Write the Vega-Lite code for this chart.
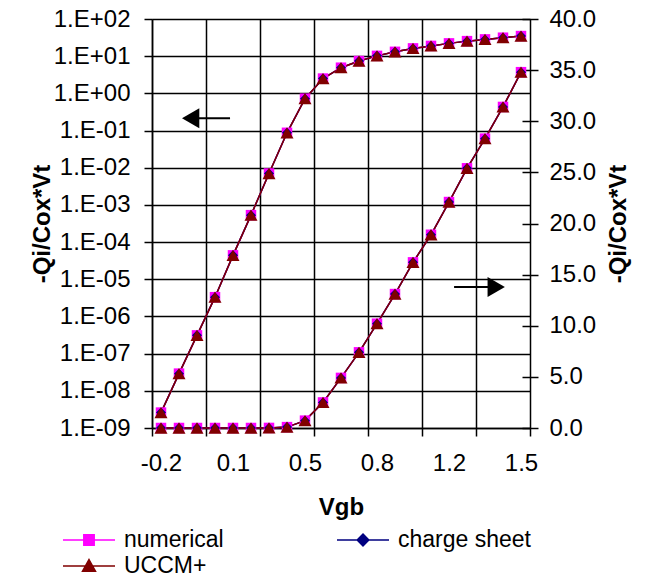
{
 "$schema": "https://vega.github.io/schema/vega-lite/v6.json",
 "width": 378,
 "height": 409,
 "padding": {"left": 30, "top": 7, "right": 5, "bottom": 0},
 "config": {
  "view": {"stroke": null},
  "font": "Liberation Sans",
  "axis": {"labelFont": "Liberation Sans", "labelFontSize": 24, "labelColor": "#000", "titleFont": "Liberation Sans", "titleFontSize": 24, "titleFontWeight": "bold", "titleColor": "#000", "domainColor": "#000", "tickColor": "#000", "gridColor": "#000", "gridOpacity": 1, "domainWidth": 1.5, "tickWidth": 1.5, "gridWidth": 1.5, "labelFlush": false, "labelOverlap": false}
 },
 "datasets": {
  "curves": [
   {"vgb": -0.2, "q": 2.6e-9, "series": "numerical"},
   {"vgb": -0.115, "q": 2.9e-8, "series": "numerical"},
   {"vgb": -0.03, "q": 3.1e-7, "series": "numerical"},
   {"vgb": 0.055, "q": 3.3e-6, "series": "numerical"},
   {"vgb": 0.14, "q": 4.4e-5, "series": "numerical"},
   {"vgb": 0.225, "q": 5.3e-4, "series": "numerical"},
   {"vgb": 0.31, "q": 0.007, "series": "numerical"},
   {"vgb": 0.395, "q": 0.087, "series": "numerical"},
   {"vgb": 0.48, "q": 0.72, "series": "numerical"},
   {"vgb": 0.565, "q": 2.5, "series": "numerical"},
   {"vgb": 0.65, "q": 4.9, "series": "numerical"},
   {"vgb": 0.735, "q": 7.4, "series": "numerical"},
   {"vgb": 0.82, "q": 10.2, "series": "numerical"},
   {"vgb": 0.905, "q": 13.1, "series": "numerical"},
   {"vgb": 0.99, "q": 16.2, "series": "numerical"},
   {"vgb": 1.075, "q": 18.9, "series": "numerical"},
   {"vgb": 1.16, "q": 22.1, "series": "numerical"},
   {"vgb": 1.245, "q": 25.4, "series": "numerical"},
   {"vgb": 1.33, "q": 28.3, "series": "numerical"},
   {"vgb": 1.415, "q": 31.4, "series": "numerical"},
   {"vgb": 1.5, "q": 34.8, "series": "numerical"},
   {"vgb": -0.2, "q": 2.6e-9, "series": "charge sheet"},
   {"vgb": -0.115, "q": 2.9e-8, "series": "charge sheet"},
   {"vgb": -0.03, "q": 3.1e-7, "series": "charge sheet"},
   {"vgb": 0.055, "q": 3.3e-6, "series": "charge sheet"},
   {"vgb": 0.14, "q": 4.4e-5, "series": "charge sheet"},
   {"vgb": 0.225, "q": 5.3e-4, "series": "charge sheet"},
   {"vgb": 0.31, "q": 0.007, "series": "charge sheet"},
   {"vgb": 0.395, "q": 0.087, "series": "charge sheet"},
   {"vgb": 0.48, "q": 0.72, "series": "charge sheet"},
   {"vgb": 0.565, "q": 2.5, "series": "charge sheet"},
   {"vgb": 0.65, "q": 4.9, "series": "charge sheet"},
   {"vgb": 0.735, "q": 7.4, "series": "charge sheet"},
   {"vgb": 0.82, "q": 10.2, "series": "charge sheet"},
   {"vgb": 0.905, "q": 13.1, "series": "charge sheet"},
   {"vgb": 0.99, "q": 16.2, "series": "charge sheet"},
   {"vgb": 1.075, "q": 18.9, "series": "charge sheet"},
   {"vgb": 1.16, "q": 22.1, "series": "charge sheet"},
   {"vgb": 1.245, "q": 25.4, "series": "charge sheet"},
   {"vgb": 1.33, "q": 28.3, "series": "charge sheet"},
   {"vgb": 1.415, "q": 31.4, "series": "charge sheet"},
   {"vgb": 1.5, "q": 34.8, "series": "charge sheet"},
   {"vgb": -0.2, "q": 2.6e-9, "series": "UCCM+"},
   {"vgb": -0.115, "q": 2.9e-8, "series": "UCCM+"},
   {"vgb": -0.03, "q": 3.1e-7, "series": "UCCM+"},
   {"vgb": 0.055, "q": 3.3e-6, "series": "UCCM+"},
   {"vgb": 0.14, "q": 4.4e-5, "series": "UCCM+"},
   {"vgb": 0.225, "q": 5.3e-4, "series": "UCCM+"},
   {"vgb": 0.31, "q": 0.007, "series": "UCCM+"},
   {"vgb": 0.395, "q": 0.087, "series": "UCCM+"},
   {"vgb": 0.48, "q": 0.72, "series": "UCCM+"},
   {"vgb": 0.565, "q": 2.5, "series": "UCCM+"},
   {"vgb": 0.65, "q": 4.9, "series": "UCCM+"},
   {"vgb": 0.735, "q": 7.4, "series": "UCCM+"},
   {"vgb": 0.82, "q": 10.2, "series": "UCCM+"},
   {"vgb": 0.905, "q": 13.1, "series": "UCCM+"},
   {"vgb": 0.99, "q": 16.2, "series": "UCCM+"},
   {"vgb": 1.075, "q": 18.9, "series": "UCCM+"},
   {"vgb": 1.16, "q": 22.1, "series": "UCCM+"},
   {"vgb": 1.245, "q": 25.4, "series": "UCCM+"},
   {"vgb": 1.33, "q": 28.3, "series": "UCCM+"},
   {"vgb": 1.415, "q": 31.4, "series": "UCCM+"},
   {"vgb": 1.5, "q": 34.8, "series": "UCCM+"}
  ],
  "arrows": [
   {"vgb": -0.06, "vgb2": 0.126, "q": 30.3, "dir": "left"},
   {"vgb": 1.383, "vgb2": 1.184, "q": 13.8, "dir": "right"}
  ]
 },
 "layer": [
  {
   "data": {"name": "curves"},
   "encoding": {
    "x": {"field": "vgb", "type": "quantitative", "scale": {"domain": [-0.2425, 1.5425], "nice": false, "zero": false},
     "axis": {"orient": "bottom", "values": [-0.2425, 0.0125, 0.2675, 0.5225, 0.7775, 1.0325, 1.2875, 1.5425], "labels": false, "grid": true, "ticks": true, "tickSize": 8, "domain": true, "title": null}},
    "y": {"field": "q", "type": "quantitative", "scale": {"type": "log", "domain": [1e-9, 100], "nice": false},
     "axis": {"orient": "left", "values": [1e-9, 1e-8, 1e-7, 1e-6, 1e-5, 1e-4, 0.001, 0.01, 0.1, 1, 10, 100],
      "labelExpr": "'1.E' + (datum.value >= 1 ? '+' : '-') + (abs(round(log(datum.value)/LN10)) < 10 ? '0' : '') + abs(round(log(datum.value)/LN10))",
      "grid": true, "tickSize": 8, "labelPadding": 14, "title": "-Qi/Cox*Vt", "titlePadding": -1}}
   },
   "layer": [
    {"transform": [{"filter": "datum.q < 0"}], "mark": {"type": "point", "filled": true, "opacity": 1, "strokeWidth": 1.5},
     "encoding": {
      "color": {"field": "series", "type": "nominal",
       "scale": {"domain": ["numerical", "charge sheet", "UCCM+"], "range": ["#FF00FF", "#000080", "#800000"]},
       "legend": {"title": null, "orient": "none", "direction": "horizontal", "legendX": -77, "legendY": 507, "columns": 2, "columnPadding": 110, "rowPadding": 0, "padding": 0,
        "symbolSize": 676, "symbolStrokeWidth": 1.5, "labelOffset": 21, "labelFontSize": 23, "labelFont": "Liberation Sans", "labelColor": "#000", "labelLimit": 300}},
      "stroke": {"field": "series", "type": "nominal",
       "scale": {"domain": ["numerical", "charge sheet", "UCCM+"], "range": ["#FF00FF", "#000080", "#800000"]}},
      "shape": {"field": "series", "type": "nominal",
       "scale": {"domain": ["numerical", "charge sheet", "UCCM+"], "range": ["M-2,0H2M-0.4,-0.4H0.4V0.4H-0.4Z", "M-2,0H2M0,-0.45L0.45,0L0,0.45L-0.45,0Z", "M-2,0H2M0,-0.5L0.5,0.4H-0.5Z"]}}
     }},
    {"mark": {"type": "line", "strokeWidth": 1.5},
     "encoding": {"color": {"field": "series", "type": "nominal",
      "scale": {"domain": ["numerical", "charge sheet", "UCCM+"], "range": ["#FF00FF", "#000080", "#800000"]}, "legend": null}}},
    {"transform": [{"filter": "datum.series === 'numerical'"}], "mark": {"type": "point", "shape": "square", "filled": true, "opacity": 1, "color": "#FF00FF", "size": 110}},
    {"transform": [{"filter": "datum.series === 'charge sheet'"}], "mark": {"type": "point", "shape": "diamond", "filled": true, "opacity": 1, "color": "#000080", "size": 100}},
    {"transform": [{"filter": "datum.series === 'UCCM+'"}], "mark": {"type": "point", "shape": "triangle-up", "filled": true, "opacity": 1, "color": "#800000", "size": 170}}
   ]
  },
  {
   "encoding": {
    "x": {"field": "vgb", "type": "quantitative", "scale": {"domain": [-0.2425, 1.5425], "nice": false, "zero": false},
     "axis": {"orient": "bottom", "values": [-0.2, 0.14, 0.48, 0.82, 1.16, 1.5], "labelExpr": "replace(format(datum.value, '.1f'), '−', '-')", "ticks": false, "domain": false, "grid": false, "labelPadding": 23, "title": "Vgb", "titlePadding": 20}},
    "y": {"field": "q", "type": "quantitative", "scale": {"domain": [0, 40], "nice": false, "zero": true},
     "axis": {"orient": "right", "values": [0, 5, 10, 15, 20, 25, 30, 35, 40], "format": ".1f", "offset": -8, "tickSize": 16, "domain": false, "grid": false, "labelPadding": 11, "title": "-Qi/Cox*Vt", "titleAngle": 270, "titleBaseline": "top", "titlePadding": 11}}
   },
   "layer": [
    {"data": {"name": "curves"}, "mark": {"type": "line", "strokeWidth": 1.5},
     "encoding": {"color": {"field": "series", "type": "nominal", "scale": {"domain": ["numerical", "charge sheet", "UCCM+"], "range": ["#FF00FF", "#000080", "#800000"]}, "legend": null}}},
    {"data": {"name": "curves"}, "transform": [{"filter": "datum.series === 'numerical'"}], "mark": {"type": "point", "shape": "square", "filled": true, "opacity": 1, "color": "#FF00FF", "size": 110}},
    {"data": {"name": "curves"}, "transform": [{"filter": "datum.series === 'charge sheet'"}], "mark": {"type": "point", "shape": "diamond", "filled": true, "opacity": 1, "color": "#000080", "size": 100}},
    {"data": {"name": "curves"}, "transform": [{"filter": "datum.series === 'UCCM+'"}], "mark": {"type": "point", "shape": "triangle-up", "filled": true, "opacity": 1, "color": "#800000", "size": 170}},
    {"data": {"name": "arrows"}, "mark": {"type": "rule", "color": "black", "strokeWidth": 2},
     "encoding": {"x2": {"field": "vgb2"}}},
    {"data": {"name": "arrows"}, "transform": [{"filter": "datum.dir === 'left'"}],
     "mark": {"type": "point", "shape": "triangle-left", "filled": true, "color": "black", "size": 400, "opacity": 1}},
    {"data": {"name": "arrows"}, "transform": [{"filter": "datum.dir === 'right'"}],
     "mark": {"type": "point", "shape": "triangle-right", "filled": true, "color": "black", "size": 400, "opacity": 1}}
   ]
  }
 ],
 "resolve": {"scale": {"y": "independent"}, "axis": {"x": "independent", "y": "independent"}}
}
